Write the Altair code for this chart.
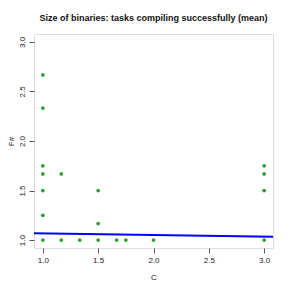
import altair as alt
import pandas as pd

# data
c_vals = [1.0, 1.0, 1.0, 1.0, 1.0, 1.0, 1.0,
          7/6, 7/6, 4/3,
          1.5, 1.5, 1.5,
          5/3, 1.75, 2.0,
          3.0, 3.0, 3.0, 3.0]
f_vals = [2.667, 2.333, 1.75, 1.667, 1.5, 1.25, 1.0,
          1.667, 1.0, 1.0,
          1.5, 1.1667, 1.0,
          1.0, 1.0, 1.0,
          1.75, 1.667, 1.5, 1.0]
fit_intercept = 1.083
fit_slope = -0.016
x_domain = [0.92, 3.08]
y_domain = [0.92, 3.08]
ticks = [1.0, 1.5, 2.0, 2.5, 3.0]

pts = pd.DataFrame({"C": c_vals, "F#": f_vals})
fit = pd.DataFrame({"C": x_domain})
fit["F#"] = fit_intercept + fit_slope * fit["C"]

xscale = alt.Scale(domain=x_domain, nice=False, zero=False)
yscale = alt.Scale(domain=y_domain, nice=False, zero=False)

xaxis = alt.Axis(values=ticks, format=".1f", grid=False, domain=False,
                 tickSize=5, tickColor="#555", labelFontSize=8, labelPadding=3,
                 labelColor="#222", labelFont="Liberation Sans",
                 title="C", titleFontSize=8, titleFontWeight="normal",
                 titleFont="Liberation Sans", titlePadding=9, titleColor="#222")
yaxis = alt.Axis(values=ticks, format=".1f", grid=False, domain=False,
                 tickSize=5, tickColor="#555", labelFontSize=8, labelPadding=3,
                 labelAngle=-90, labelAlign="center", labelBaseline="bottom",
                 labelColor="#222", labelFont="Liberation Sans",
                 title="F#", titleFontSize=8, titleFontWeight="normal",
                 titleFont="Liberation Sans", titlePadding=3, titleColor="#222")

points = alt.Chart(pts).mark_circle(size=14, opacity=1, color="#2ca02c").encode(
    x=alt.X("C:Q", scale=xscale, axis=xaxis),
    y=alt.Y("F#:Q", scale=yscale, axis=yaxis),
)
line = alt.Chart(fit).mark_line(color="#0000ff", strokeWidth=2, clip=True).encode(
    x=alt.X("C:Q", scale=xscale),
    y=alt.Y("F#:Q", scale=yscale),
)

chart = (points + line).properties(
    width=239, height=214,
    title=alt.TitleParams("Size of binaries: tasks compiling successfully (mean)",
                          fontSize=9, fontWeight="bold", font="Liberation Sans",
                          anchor="middle", offset=11, color="#111"),
    autosize=alt.AutoSizeParams(type="none"),
    padding={"left": 26, "top": 26, "right": 10, "bottom": 40},
).configure_view(stroke="#555", strokeWidth=1).configure(background="white")

chart.save("out.html", embed_options={"renderer": "svg", "actions": False})
